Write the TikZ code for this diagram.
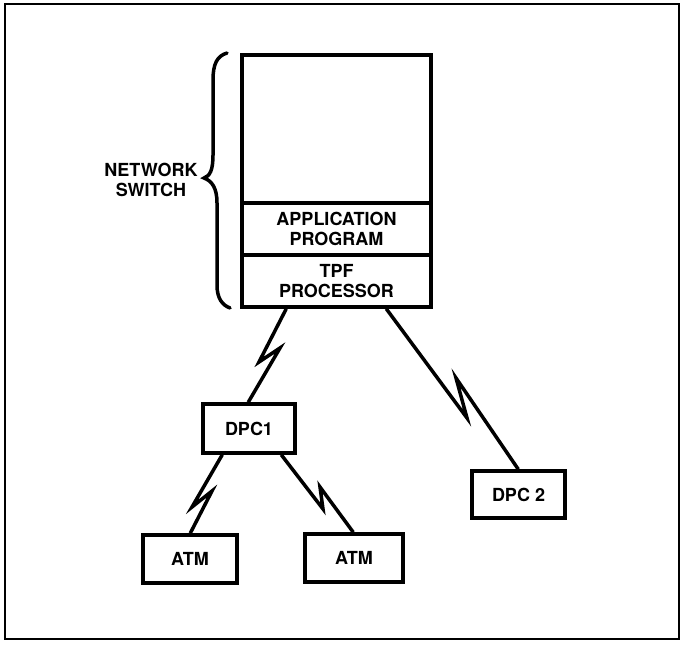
\documentclass[tikz,border=0pt]{standalone}
\usepackage{fontspec}
\setmainfont{TeX Gyre Heros}
\usetikzlibrary{calc}
\begin{document}
\begin{tikzpicture}[x=1pt,y=-1pt,
  every node/.style={font=\fontsize{18}{20}\selectfont\bfseries},
  unit/.style={draw,line width=3.5pt,rectangle,inner sep=0pt,align=center},
  link/.style={line width=3.5pt,line join=miter,miter limit=20},
  frame/.style={line width=2.5pt}]
  \useasboundingbox (0,0) rectangle (682,645);
  % outer frame
  \draw[frame] (5,4) rectangle (679,639);

  % network switch stack
  \node[unit,minimum width=189pt,minimum height=148pt] (host) at (336.5,129) {};
  \node[unit,minimum width=189pt,minimum height=52pt] (app) at (336.5,229) {APPLICATION\\PROGRAM};
  \node[unit,minimum width=189pt,minimum height=52pt] (tpf) at (336.5,281) {TPF\\PROCESSOR};

  % brace and its label
  \draw[line width=3.5pt,line cap=round]
    (227,53) .. controls (217,56) and (213,64) .. (213,80)
    -- (213,155)
    .. controls (213,170) and (210,176) .. (204,178)
    .. controls (212,181) and (217,188) .. (217,203)
    -- (217,285)
    .. controls (217,298) and (222,305) .. (230,308);
  \node[align=center] (label) at (151,180) {NETWORK\\SWITCH};

  % terminal units
  \node[unit,minimum width=92pt,minimum height=49pt] (dpc1) at (249,428.5) {DPC1};
  \node[unit,minimum width=93pt,minimum height=47pt] (dpc2) at (518.5,494.5) {DPC 2};
  \node[unit,minimum width=94pt,minimum height=48pt] (atm1) at (190,559) {ATM};
  \node[unit,minimum width=98pt,minimum height=48pt] (atm2) at (354,558) {ATM};

  % lightning bends of the data links
  \coordinate (a1) at (259,362);  \coordinate (a2) at (280,348);
  \coordinate (b1) at (467,418);  \coordinate (b2) at (456,378);
  \coordinate (c1) at (192,507);  \coordinate (c2) at (212,491);
  \coordinate (d1) at (323,509);  \coordinate (d2) at (320,487);

  \draw[link] ($(tpf.south west)+(46,0)$) -- (a1) -- (a2) -- ($(dpc1.north west)+(47,0)$);
  \draw[link] ($(tpf.south west)+(146,0)$) -- (b1) -- (b2) -- ($(dpc2.north west)+(48,0)$);
  \draw[link] ($(dpc1.south west)+(21,0)$) -- (c1) -- (c2) -- ($(atm1.north west)+(49,0)$);
  \draw[link] ($(dpc1.south west)+(80,0)$) -- (d1) -- (d2) -- ($(atm2.north west)+(50,0)$);
\end{tikzpicture}
\end{document}
